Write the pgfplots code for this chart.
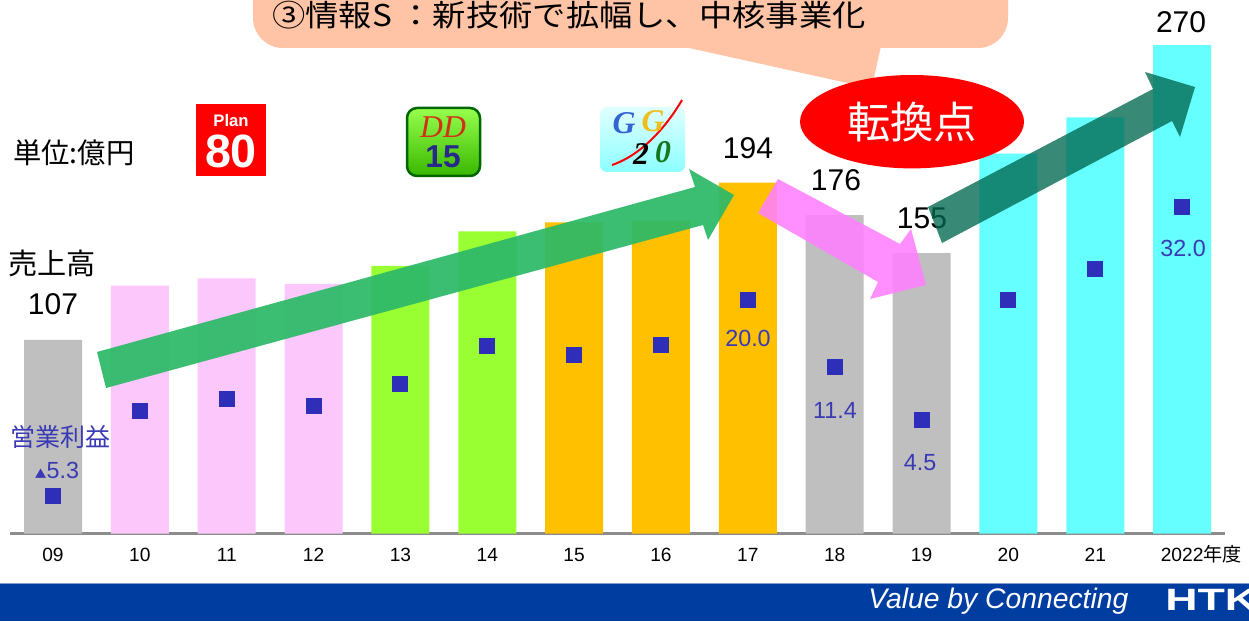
\documentclass[border=0pt]{standalone}
\usepackage{fontspec}
\setmainfont{Liberation Sans}
\newfontfamily\jp{Noto Sans CJK JP}
\newfontfamily\serifit{Liberation Serif}
\usepackage{pgfplots}
\pgfplotsset{compat=1.18}
\usetikzlibrary{shapes.geometric}

\definecolor{cgray}{HTML}{BFBFBF}
\definecolor{cpink}{HTML}{FCC8FC}
\definecolor{cgreen}{HTML}{99FF33}
\definecolor{corange}{HTML}{FFC000}
\definecolor{ccyan}{HTML}{66FFFF}
\definecolor{cblue}{HTML}{2E2EB8}
\definecolor{ctext}{HTML}{3A3AB4}
\definecolor{cbubble}{HTML}{FFC4A5}
\definecolor{carrowg}{HTML}{2DB968}
\definecolor{carrowp}{HTML}{FF80FF}
\definecolor{carrowt}{RGB}{0,105,80}
\definecolor{cband}{HTML}{003DA0}
\definecolor{caxis}{HTML}{8C8C8C}

\newcommand\fs[1]{\fontsize{#1}{#1}\selectfont}

\begin{document}
\begin{tikzpicture}
\useasboundingbox (0,0) rectangle (749.4pt,372.6pt);
\begin{scope}[x=0.6pt,y=-0.6pt,shift={(0,372.6pt)}]
\fill[white] (0,0) rectangle (1249,621);
% callout bubble
\fill[cbubble] (680,46) -- (881,46) -- (871.5,88.3) -- cycle;
\fill[cbubble, rounded corners=18pt] (253,-40) rectangle (1008,48);
\node[anchor=west, inner sep=0pt, font=\jp\fs{18}] at (272,15) {\scalebox{1.11}[1]{③情報S ：新技術で拡幅し、中核事業化}};
\end{scope}

% sales bars
\begin{axis}[at={(6pt,52.5pt)}, anchor=south west, scale only axis,
  width=729pt, height=320.1pt,
  xmin=-0.4951, xmax=13.494, ymin=0, ymax=294.9,
  axis x line*=bottom, axis y line=none,
  x axis line style={draw=caxis, line width=1.8pt, -},
  xtick={0,...,13},
  xticklabels={09,10,11,12,13,14,15,16,17,18,19,20,21,{2022\rlap{\jp 年度}}},
  major tick length=0pt,
  xticklabel style={font=\fs{11.5}, text height=8.5pt, text depth=1pt, yshift=-5pt},
  ybar, bar width=34.8pt, bar shift=0pt, clip=false]
\addplot[fill=cgray, draw=none] coordinates {(0,107) (9,176) (10,155)};
\addplot[fill=cpink, draw=none] coordinates {(1,137) (2,141) (3,138)};
\addplot[fill=cgreen, draw=none] coordinates {(4,148) (5,167)};
\addplot[fill=corange, draw=none] coordinates {(6,172) (7,173) (8,194)};
\addplot[fill=ccyan, draw=none] coordinates {(11,210) (12,230) (13,270)};
\end{axis}

% operating profit
\begin{axis}[at={(6pt,52.5pt)}, anchor=south west, scale only axis,
  width=729pt, height=320.1pt,
  xmin=-0.4951, xmax=13.494, ymin=-10.13, ymax=58.78,
  hide axis, clip=false]
\addplot[only marks, mark=square*, mark size=4.5pt,
  mark options={fill=cblue, draw=cblue, line width=0pt}]
  coordinates {(0,-5.3) (1,5.7) (2,7.2) (3,6.3) (4,9.2) (5,14.1) (6,12.9)
               (7,14.2) (8,20.0) (9,11.4) (10,4.5) (11,20.0) (12,24.0) (13,32.0)};
\end{axis}

\begin{scope}[x=0.6pt,y=-0.6pt,shift={(0,372.6pt)}]
% logos
\fill[red] (196,104) rectangle (266,176);
\node[white, font=\bfseries\fs{10}] at (231,121) {Plan};
\node[white, font=\bfseries\fs{28}] at (231,151) {80};
\shade[top color=green!45!lime!70!white, bottom color=green!60!black!70!lime, rounded corners=6pt]
  (407,108) rectangle (480,176);
\draw[green!40!black, line width=1.5pt, rounded corners=6pt] (407,108) rectangle (480,176);
\node[text={rgb,255:red,210;green,50;blue,20}, font=\serifit\itshape\fs{19}] at (443,127) {DD};
\node[text={rgb,255:red,40;green,40;blue,140}, font=\bfseries\fs{19}] at (443,157) {15};
\shade[top color=cyan!12!white, bottom color=cyan!45!white, rounded corners=4pt]
  (600,107) rectangle (685,172);
\draw[red, line width=1.2pt] (612,165) .. controls (650,152) and (675,112) .. (682,100);
\node[inner sep=0pt, text={rgb,255:red,50;green,100;blue,210}, font=\serifit\itshape\bfseries\fs{19}] at (624,123) {G};
\node[inner sep=0pt, text={rgb,255:red,240;green,190;blue,30}, font=\serifit\itshape\bfseries\fs{19}] at (653,121) {G};
\node[inner sep=0pt, text=black, font=\serifit\itshape\bfseries\fs{19}] at (641,154) {2};
\node[inner sep=0pt, text={rgb,255:red,20;green,120;blue,30}, font=\serifit\itshape\bfseries\fs{19}] at (663,152) {0};

% left texts
\node[anchor=west, inner sep=0pt, font=\jp\fs{17}] at (13,153) {単位:億円};
\node[anchor=west, inner sep=0pt, font=\jp\fs{17.5}] at (8,263) {売上高};
\node[font=\fs{18}] at (53,304) {107};
\node[text=ctext, font=\jp\fs{15}] at (60,437) {営業利益};
\node[text=ctext, font=\fs{14}] at (57,470) {{\jp\fs{7}▲}5.3};

% value labels
\node[font=\fs{18}] at (748,148) {194};
\node[font=\fs{18}] at (836,180) {176};
\node[font=\fs{18}] at (922,218) {155};
\node[font=\fs{18}] at (1181,22) {270};
\node[text=ctext, font=\fs{14}] at (748,338) {20.0};
\node[text=ctext, font=\fs{14}] at (835,410) {11.4};
\node[text=ctext, font=\fs{14}] at (920,463) {4.5};
\node[text=ctext, font=\fs{14}] at (1183,248) {32.0};

% arrows
\fill[carrowg, opacity=0.93] (97,352) -- (695,187) -- (689,169) -- (734,195) -- (708,240) -- (703,225) -- (106,388) -- cycle;
\fill[carrowp, opacity=0.88] (778,179) -- (900,244) -- (911,229) -- (926,285) -- (870,299) -- (878,282) -- (758,213) -- cycle;
\fill[carrowt, opacity=0.78] (928,207) -- (1153,89) -- (1145,72) -- (1195,87) -- (1180,137) -- (1172,121) -- (942,243) -- cycle;

% turning point
\fill[red] (912,121.7) ellipse [x radius=112, y radius=46.7];
\node[white, font=\jp\fs{26}] at (912,122) {転換点};

% bottom band
\fill[cband] (0,583) rectangle (1249,621);
\draw[cband!50!white, line width=0.6pt] (0,583.3) -- (1249,583.3);
\node[white, anchor=west, inner sep=0pt, font=\itshape\fs{15}] at (868,601) {\resizebox{156pt}{!}{Value by Connecting}};
\node[white, anchor=west, inner sep=0pt, font=\bfseries\fs{18.5}] at (1165,600) {\scalebox{1.45}[1]{HTK}};
\end{scope}
\end{tikzpicture}
\end{document}
